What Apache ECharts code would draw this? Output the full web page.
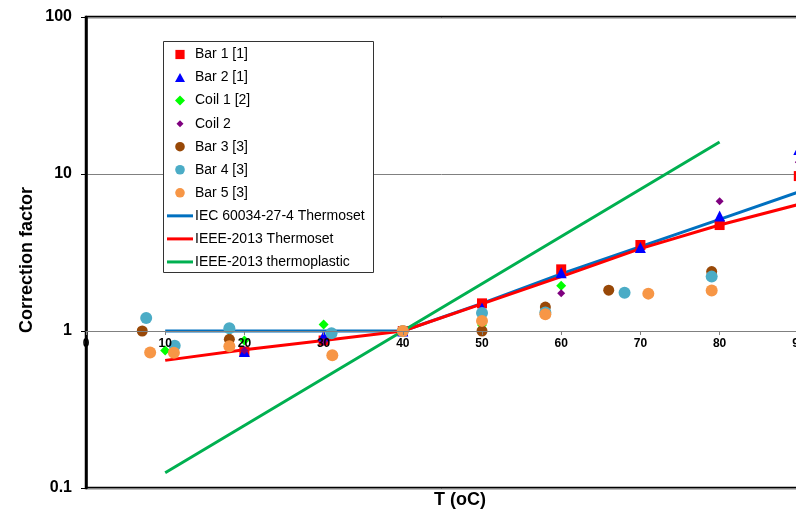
<!DOCTYPE html>
<html>
<head>
<meta charset="utf-8">
<script src="https://cdn.jsdelivr.net/npm/echarts@6/dist/echarts.min.js"></script>
<style>html,body{margin:0;padding:0;background:#fff}#c{width:796px;height:515px}</style>
</head>
<body>
<div id="c"></div>
<script>
// ---- data (T in oC, correction factor) ----
const xTicks = [0, 10, 20, 30, 40, 50, 60, 70, 80, 90, 100];
const yTicks = [0.1, 1, 10, 100];
const bar1 = [[20,0.74],[30,0.87],[40,1.0],[50,1.5],[60,2.47],[70,3.53],[80,4.73],[90,9.7]];
const bar2 = [[20,0.74],[30,0.93],[40,1.0],[50,1.4],[60,2.35],[70,3.4],[80,5.4],[90,14.3]];
const coil1 = [[10,0.75],[20,0.87],[30,1.1],[40,1.0],[50,1.09],[60,1.94]];
const coil2 = [[20,0.75],[30,0.855],[60,1.74],[80,6.7],[90,11.9]];
const bar3 = [[7.1,1.0],[18.1,0.885],[40,1.0],[50,1.0],[58,1.42],[66,1.82],[79,2.39]];
const bar4 = [[7.6,1.21],[11.2,0.806],[18.1,1.04],[31.0,0.967],[40,1.0],[50,1.3],[58,1.31],[68,1.75],[79,2.22]];
const bar5 = [[8.1,0.73],[11.1,0.727],[18.1,0.8],[31.1,0.70],[40,1.0],[50,1.16],[58,1.28],[71,1.73],[79,1.81]];
const iecThermoset = [[10,1],[20,1],[30,1],[40,1],[50,1.5],[60,2.31],[70,3.45],[80,5.14],[90,7.7]];
const ieeeThermoset = [[10,0.65],[20,0.76],[30,0.87],[40,1],[50,1.49],[60,2.22],[70,3.35],[80,4.73],[90,6.4]];
const ieeeThermoplastic = [[10,0.125],[20,0.25],[30,0.5],[40,1],[50,2],[60,4],[70,8],[80,16]];

const FONT = 'Liberation Sans, Arial, sans-serif';
const chart = echarts.init(document.getElementById('c'), null, {renderer: 'canvas'});

const ICON = {
  square: 'path://M0,0M1,1M0.04,0.04h0.92v0.92h-0.92z',
  triangle: 'path://M0,0M1,1M0.5,0.05L1,0.95L0,0.95z',
  diamond: 'path://M0,0M1,1M0.5,0L1,0.5L0.5,1L0,0.5z',
  smallDiamond: 'path://M0,0M1,1M0.5,0.15L0.85,0.5L0.5,0.85L0.15,0.5z',
  circle: 'path://M0,0M1,1M0.5,0.02A0.48,0.48,0,1,1,0.4999,0.02z',
  line: 'path://M0,0h26v3h-26z'
};

function sc(name, data, symbol, size, color) {
  return {name, type: 'scatter', data, symbol, symbolSize: size, z: 3,
    itemStyle: {color, opacity: 1}};
}
function ln(name, data, color) {
  return {name, type: 'line', data, symbol: 'none', showSymbol: false, z: 2,
    lineStyle: {color, width: 3}, itemStyle: {color}};
}

chart.setOption({
  animation: false,
  backgroundColor: '#fff',
  grid: {left: 86, top: 17, width: 792, height: 471, show: true, containLabel: false,
    outerBoundsMode: 'none',
    borderColor: '#000', borderWidth: 2.5, backgroundColor: 'transparent'},
  xAxis: {
    type: 'value', min: xTicks[0], max: xTicks[xTicks.length - 1], interval: 10,
    position: 'bottom', offset: -157, z: 6,
    axisLine: {show: true, lineStyle: {color: '#808080', width: 1}},
    axisTick: {show: true, length: 4, lineStyle: {color: '#808080'}},
    axisLabel: {margin: 7, color: '#000', fontWeight: 'bold', fontSize: 12, fontFamily: FONT},
    splitLine: {show: false}
  },
  yAxis: {
    type: 'log', logBase: 10, min: yTicks[0], max: yTicks[yTicks.length - 1],
    axisLine: {show: true, lineStyle: {color: '#000', width: 2.5}},
    axisTick: {show: true, length: 5, lineStyle: {color: '#000'}},
    axisLabel: {margin: 14, color: '#000', fontWeight: 'bold', fontSize: 16, fontFamily: FONT,
      formatter: v => String(v)},
    splitLine: {show: true, lineStyle: {color: '#808080', width: 1}},
    minorTick: {show: false}
  },
  legend: {
    orient: 'vertical', left: 167, top: 47.5, padding: 0, z: 10,
    itemWidth: 26, itemHeight: 10, itemGap: 9.05, symbolKeepAspect: true,
    textStyle: {fontSize: 14, color: '#000', fontFamily: FONT, padding: [0, 0, 0, -3]},
    data: [
      {name: 'Bar 1 [1]', icon: ICON.square},
      {name: 'Bar 2 [1]', icon: ICON.triangle},
      {name: 'Coil 1 [2]', icon: ICON.diamond},
      {name: 'Coil 2', icon: ICON.smallDiamond},
      {name: 'Bar 3 [3]', icon: ICON.circle},
      {name: 'Bar 4 [3]', icon: ICON.circle},
      {name: 'Bar 5 [3]', icon: ICON.circle},
      {name: 'IEC 60034-27-4 Thermoset', icon: ICON.line},
      {name: 'IEEE-2013 Thermoset', icon: ICON.line},
      {name: 'IEEE-2013 thermoplastic', icon: ICON.line}
    ]
  },
  graphic: [
    {type: 'rect', z: 5, shape: {x: 163.5, y: 41.5, width: 210, height: 231},
      style: {fill: '#fff', stroke: '#333', lineWidth: 1}},
    {type: 'text', z: 5, x: 27, y: 260, rotation: Math.PI / 2,
      style: {text: 'Correction factor', fontSize: 18, fontWeight: 'bold', fontFamily: FONT,
        fill: '#000', align: 'center', verticalAlign: 'middle'}},
    {type: 'text', z: 5, x: 460, y: 500,
      style: {text: 'T (oC)', fontSize: 18, fontWeight: 'bold', fontFamily: FONT,
        fill: '#000', align: 'center', verticalAlign: 'middle'}}
  ],
  series: [
    ln('IEC 60034-27-4 Thermoset', iecThermoset, '#0070C0'),
    ln('IEEE-2013 Thermoset', ieeeThermoset, '#FF0000'),
    ln('IEEE-2013 thermoplastic', ieeeThermoplastic, '#00B050'),
    sc('Bar 1 [1]', bar1, 'rect', 10, '#FF0000'),
    sc('Bar 2 [1]', bar2, 'triangle', 11, '#0000FF'),
    sc('Coil 1 [2]', coil1, 'diamond', 10, '#00FF00'),
    sc('Coil 2', coil2, 'diamond', 8, '#7F007F'),
    sc('Bar 3 [3]', bar3, 'circle', 11, '#984807'),
    sc('Bar 4 [3]', bar4, 'circle', 12, '#4BACC6'),
    sc('Bar 5 [3]', bar5, 'circle', 12, '#F79646')
  ]
});
</script>
</body>
</html>
